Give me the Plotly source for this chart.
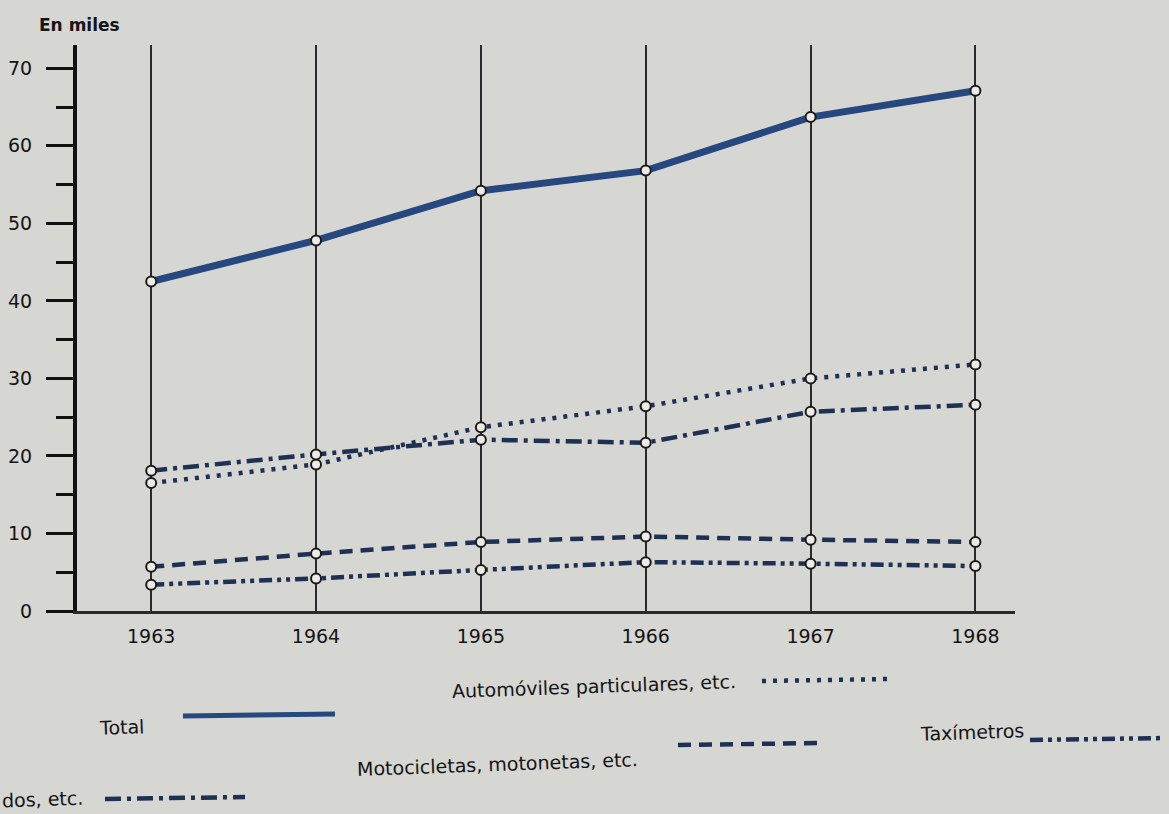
import plotly.graph_objects as go

# Data (thousands of vehicles)
years = [1963, 1964, 1965, 1966, 1967, 1968]
total = [42.5, 47.8, 54.2, 56.8, 63.7, 67.1]
automoviles = [16.5, 18.9, 23.7, 26.4, 30.0, 31.8]
camiones = [18.1, 20.2, 22.1, 21.7, 25.7, 26.6]
motocicletas = [5.7, 7.4, 8.9, 9.6, 9.2, 8.9]
taximetros = [3.4, 4.2, 5.3, 6.3, 6.1, 5.8]

series_names = ["Total", "Automóviles particulares, etc.", "dos, etc.",
                "Motocicletas, motonetas, etc.", "Taxímetros"]
y_ticks = [0, 10, 20, 30, 40, 50, 60, 70]

paper_bg = "#d6d6d2"
ink = "#1e3054"
total_ink = "#27487e"
text_ink = "#141414"
font_name = "DejaVu Sans"

# dash style per series (also used for the legend keys)
styles = {
    "Total": dict(color=total_ink, width=7, dash="solid"),
    "Automóviles particulares, etc.": dict(color=ink, width=4.5, dash="4px,7px"),
    "dos, etc.": dict(color=ink, width=4.5, dash="16px,6px,4px,6px"),
    "Motocicletas, motonetas, etc.": dict(color=ink, width=4.5, dash="13px,8px"),
    "Taxímetros": dict(color=ink, width=4.5, dash="13px,5px,4px,5px,4px,5px"),
}
values = {
    "Total": total,
    "Automóviles particulares, etc.": automoviles,
    "dos, etc.": camiones,
    "Motocicletas, motonetas, etc.": motocicletas,
    "Taxímetros": taximetros,
}

fig = go.Figure()
for name in series_names:
    fig.add_trace(go.Scatter(
        x=years, y=values[name], mode="lines+markers", name=name,
        line=styles[name],
        marker=dict(symbol="circle", size=10, color="#ecebe6",
                    line=dict(color="#1a1a1a", width=2)),
        showlegend=False,
    ))

# legend keys drawn by hand: label text, then a sample of the line
# (label x/y in pixels, sample x0/x1/y in pixels)
legend_items = [
    ("Total", 97, 727, 183, 335, 716),
    ("Automóviles particulares, etc.", 450, 686, 762, 890, 681),
    ("Motocicletas, motonetas, etc.", 355, 764, 678, 822, 745),
    ("Taxímetros", 918, 732, 1030, 1165, 740),
    ("dos, etc.", 0, 799, 105, 245, 799),
]

plot_l, plot_r, plot_t, plot_b = 77, 1015, 45, 611
def px_x(px):
    return (px - plot_l) / (plot_r - plot_l)
def px_y(py):
    return (plot_b - py) / (plot_b - plot_t)

annotations = [dict(text="<b>En miles</b>", x=px_x(37), y=px_y(25), xref="paper", yref="paper",
                    xanchor="left", yanchor="middle", showarrow=False,
                    font=dict(family=font_name, size=17, color=text_ink))]
shapes = []
for label, tx, ty, sx0, sx1, sy in legend_items:
    annotations.append(dict(text=label, x=px_x(tx), y=px_y(ty), xref="paper", yref="paper",
                            xanchor="left", yanchor="middle", showarrow=False, textangle=-2,
                            font=dict(family=font_name, size=19, color=text_ink)))
    st = styles[label]
    shapes.append(dict(type="line", xref="paper", yref="paper",
                       x0=px_x(sx0), x1=px_x(sx1), y0=px_y(sy), y1=px_y(sy - 2),
                       line=dict(color=st["color"], width=min(st["width"], 5), dash=st["dash"])))

fig.update_layout(
    width=1169, height=814,
    margin=dict(l=plot_l, r=1169 - plot_r, t=plot_t, b=814 - plot_b),
    paper_bgcolor=paper_bg, plot_bgcolor=paper_bg,
    annotations=annotations, shapes=shapes,
    font=dict(family=font_name, color=text_ink),
    xaxis=dict(
        range=[1962.55, 1968.24], tickvals=years, ticktext=[str(y) for y in years],
        showgrid=True, gridcolor="#2a2a2a", gridwidth=1.5,
        showline=True, linecolor="#2a2a2a", linewidth=2.5,
        ticks="", ticklabelstandoff=6, zeroline=False, automargin=False,
        tickfont=dict(family=font_name, size=19, color=text_ink),
    ),
    yaxis=dict(
        range=[0, 73], tickvals=y_ticks, showgrid=False, zeroline=False,
        showline=True, linecolor="#111111", linewidth=4, automargin=False,
        ticks="outside", ticklen=27, tickwidth=3, tickcolor="#111111",
        minor=dict(tickvals=[5, 15, 25, 35, 45, 55, 65], ticks="outside",
                   ticklen=17, tickwidth=2.5, tickcolor="#111111"),
        ticklabelstandoff=10,
        tickfont=dict(family=font_name, size=19, color=text_ink),
    ),
)

# remove the page margin so the figure fills the browser window
fig.write_html("out.html", config={"displayModeBar": False},
               post_script="document.body.style.margin='0';")
print("Saved out.html")
